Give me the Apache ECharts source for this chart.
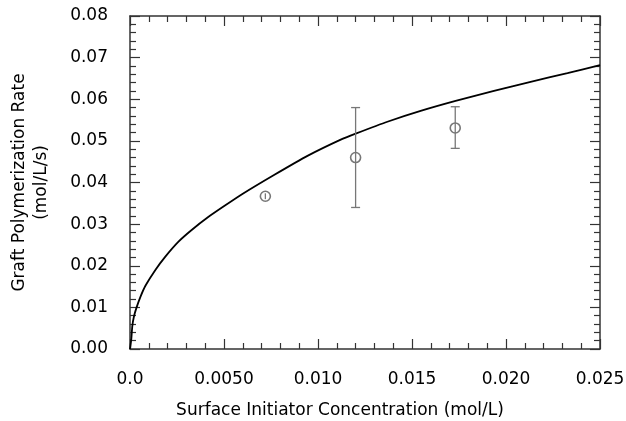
<!DOCTYPE html>
<html>
<head>
<meta charset="utf-8">
<script src="https://cdn.jsdelivr.net/npm/echarts@6/dist/echarts.min.js"></script>
<style>
html,body{margin:0;padding:0;background:#fff;}
#chart{width:626px;height:421px;}
</style>
</head>
<body>
<div id="chart"></div>
<script>
// Data
var xTickValues = [0, 0.005, 0.01, 0.015, 0.02, 0.025];
var xTickLabels = ["0.0", "0.0050", "0.010", "0.015", "0.020", "0.025"];
var yTickLabels = ["0.00", "0.01", "0.02", "0.03", "0.04", "0.05", "0.06", "0.07", "0.08"];

var curveX = [0, 0.00007, 0.00012, 0.00021, 0.00035, 0.00056, 0.00082, 0.00135, 0.00188, 0.00258, 0.00328, 0.00416, 0.00503, 0.006, 0.00766, 0.00944, 0.01121, 0.01204, 0.01369, 0.01546, 0.01732, 0.01936, 0.02131, 0.02327, 0.025];
var curveY = [0, 0.0024, 0.0054, 0.0078, 0.0100, 0.0126, 0.0152, 0.0190, 0.0222, 0.0258, 0.0286, 0.0317, 0.0344, 0.0373, 0.0418, 0.0464, 0.0503, 0.0518, 0.0546, 0.0572, 0.0596, 0.0620, 0.0642, 0.0663, 0.0682];

var pointX = [0.0072, 0.0120, 0.0173];
var pointY = [0.0367, 0.0460, 0.0531];
var errLow = [0.0360, 0.0340, 0.0482];
var errHigh = [0.0374, 0.0580, 0.0582];

var FONT = "DejaVu Sans";
var AX = "#333";

function xLabel(v) {
  for (var i = 0; i < xTickValues.length; i++) {
    if (Math.abs(v - xTickValues[i]) < 1e-9) return xTickLabels[i];
  }
  return "";
}
function yLabel(v) {
  var idx = Math.round(v / 0.01);
  return yTickLabels[idx] !== undefined ? yTickLabels[idx] : "";
}

var chart = echarts.init(document.getElementById('chart'), null, {renderer: 'canvas'});

function commonAxis(extra) {
  var base = {
    type: 'value',
    axisLine: {show: true, onZero: false, lineStyle: {color: AX, width: 1.5}},
    axisTick: {show: true, inside: true, length: 10, lineStyle: {color: AX, width: 1.2}},
    minorTick: {show: true, splitNumber: 5, length: 6, lineStyle: {color: AX, width: 1.2}},
    splitLine: {show: false},
    minorSplitLine: {show: false}
  };
  for (var k in extra) base[k] = extra[k];
  return base;
}

var curveData = curveX.map(function (x, i) { return [x, curveY[i]]; });
var pointData = pointX.map(function (x, i) { return [x, pointY[i]]; });
var errData = pointX.map(function (x, i) { return [x, errLow[i], errHigh[i]]; });

var option = {
  animation: false,
  backgroundColor: '#fff',
  grid: {left: 130, right: 26, top: 16, bottom: 72, containLabel: false, outerBoundsMode: 'none'},
  xAxis: [
    commonAxis({
      position: 'bottom', min: 0, max: 0.025, interval: 0.005,
      axisLabel: {show: true, margin: 22, formatter: xLabel, color: '#000', fontFamily: FONT, fontSize: 17},
      name: 'Surface Initiator Concentration (mol/L)',
      nameLocation: 'middle', nameGap: 53,
      nameTextStyle: {color: '#000', fontFamily: FONT, fontSize: 17, padding: [0, 50, 0, 0]}
    }),
    commonAxis({
      position: 'top', min: 0, max: 0.025, interval: 0.005,
      axisLabel: {show: false}
    })
  ],
  yAxis: [
    commonAxis({
      position: 'left', min: 0, max: 0.08, interval: 0.01,
      axisLabel: {show: true, margin: 22, formatter: yLabel, color: '#000', fontFamily: FONT, fontSize: 17},
      name: 'Graft Polymerization Rate\n(mol/L/s)',
      nameLocation: 'middle', nameGap: 77, nameRotate: 90,
      nameTextStyle: {color: '#000', fontFamily: FONT, fontSize: 17, lineHeight: 22, align: 'center'}
    }),
    commonAxis({
      position: 'right', min: 0, max: 0.08, interval: 0.01,
      axisLabel: {show: false}
    })
  ],
  series: [
    {
      type: 'line',
      data: curveData,
      xAxisIndex: 0, yAxisIndex: 0,
      showSymbol: false,
      smooth: 0.2,
      lineStyle: {color: '#000', width: 1.8},
      z: 2
    },
    {
      type: 'scatter',
      data: pointData,
      symbol: 'circle',
      symbolSize: 10,
      itemStyle: {color: 'rgba(0,0,0,0)', borderColor: '#555', borderWidth: 1.6},
      z: 3
    },
    {
      type: 'custom',
      data: errData,
      z: 4,
      renderItem: function (params, api) {
        var x = api.value(0);
        var lo = api.coord([x, api.value(1)]);
        var hi = api.coord([x, api.value(2)]);
        var hw = 4.5;
        var style = {stroke: '#777', lineWidth: 1.3};
        var children = [
          {type: 'line', shape: {x1: lo[0], y1: lo[1], x2: hi[0], y2: hi[1]}, style: style}
        ];
        // caps only where the bar reaches outside the marker circle
        if (Math.abs(lo[1] - hi[1]) > 12) {
          children.push({type: 'line', shape: {x1: lo[0] - hw, y1: lo[1], x2: lo[0] + hw, y2: lo[1]}, style: style});
          children.push({type: 'line', shape: {x1: hi[0] - hw, y1: hi[1], x2: hi[0] + hw, y2: hi[1]}, style: style});
        }
        return {type: 'group', children: children};
      }
    }
  ]
};
chart.setOption(option);
</script>
</body>
</html>
